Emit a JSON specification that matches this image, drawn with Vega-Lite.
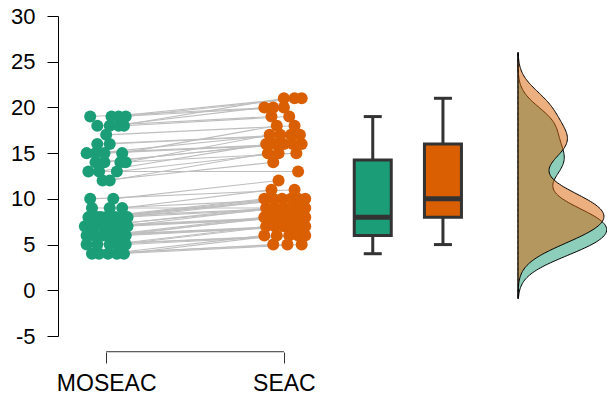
{
"$schema":"https://vega.github.io/schema/vega-lite/v6.json",
"width":549,"height":320,
"autosize":{"type":"none"},
"padding":{"left":58,"top":16,"right":0,"bottom":60},
"background":"white",
"config":{"view":{"stroke":null},"font":"Liberation Sans",
 "axis":{"grid":false,"title":null},
 "axisY":{"tickSize":11,"labelFontSize":22,"labelPadding":12,"domainColor":"#000","tickColor":"#000","labelColor":"#000","domainWidth":1,"tickWidth":1,"labelExpr":"'' + datum.value"},
 "axisX":{"tickSize":11,"labelFontSize":23,"labelPadding":9,"domain":false,"offset":16,"tickColor":"#333","labelColor":"#000"}},
"datasets":{"pts":[
{"id":1,"c":"MOSEAC","v":4,"x":0.96},{"id":2,"c":"MOSEAC","v":4,"x":1.01},{"id":3,"c":"MOSEAC","v":4,"x":1.06},{"id":4,"c":"MOSEAC","v":4,"x":1.10},{"id":5,"c":"MOSEAC","v":4,"x":0.92},
{"id":6,"c":"MOSEAC","v":5,"x":0.89},{"id":7,"c":"MOSEAC","v":5,"x":0.95},{"id":8,"c":"MOSEAC","v":5,"x":1.02},{"id":9,"c":"MOSEAC","v":5,"x":1.07},{"id":10,"c":"MOSEAC","v":5,"x":1.11},
{"id":11,"c":"MOSEAC","v":6,"x":0.89},{"id":12,"c":"MOSEAC","v":6,"x":0.93},{"id":13,"c":"MOSEAC","v":6,"x":0.98},{"id":14,"c":"MOSEAC","v":6,"x":1.03},{"id":15,"c":"MOSEAC","v":6,"x":1.07},{"id":16,"c":"MOSEAC","v":6,"x":1.11},{"id":17,"c":"MOSEAC","v":6,"x":1.00},
{"id":18,"c":"MOSEAC","v":7,"x":0.88},{"id":19,"c":"MOSEAC","v":7,"x":0.94},{"id":20,"c":"MOSEAC","v":7,"x":0.99},{"id":21,"c":"MOSEAC","v":7,"x":1.04},{"id":22,"c":"MOSEAC","v":7,"x":1.08},{"id":23,"c":"MOSEAC","v":7,"x":1.12},{"id":24,"c":"MOSEAC","v":7,"x":0.91},
{"id":25,"c":"MOSEAC","v":8,"x":0.90},{"id":26,"c":"MOSEAC","v":8,"x":0.95},{"id":27,"c":"MOSEAC","v":8,"x":1.00},{"id":28,"c":"MOSEAC","v":8,"x":1.05},{"id":29,"c":"MOSEAC","v":8,"x":1.09},{"id":30,"c":"MOSEAC","v":8,"x":1.12},{"id":31,"c":"MOSEAC","v":8,"x":0.97},
{"id":32,"c":"MOSEAC","v":9,"x":0.92},{"id":33,"c":"MOSEAC","v":9,"x":1.02},{"id":34,"c":"MOSEAC","v":9,"x":1.09},
{"id":35,"c":"MOSEAC","v":10,"x":0.91},{"id":36,"c":"MOSEAC","v":10,"x":1.04},
{"id":37,"c":"MOSEAC","v":12,"x":0.98},{"id":38,"c":"MOSEAC","v":12,"x":1.02},
{"id":39,"c":"MOSEAC","v":13,"x":0.90},{"id":40,"c":"MOSEAC","v":13,"x":0.96},{"id":41,"c":"MOSEAC","v":13,"x":1.06},
{"id":42,"c":"MOSEAC","v":14,"x":0.99},{"id":43,"c":"MOSEAC","v":14,"x":1.08},{"id":44,"c":"MOSEAC","v":14,"x":0.94},{"id":45,"c":"MOSEAC","v":14,"x":1.11},
{"id":46,"c":"MOSEAC","v":15,"x":0.89},{"id":47,"c":"MOSEAC","v":15,"x":0.94},{"id":48,"c":"MOSEAC","v":15,"x":0.99},{"id":49,"c":"MOSEAC","v":15,"x":1.09},
{"id":50,"c":"MOSEAC","v":16,"x":0.95},{"id":51,"c":"MOSEAC","v":16,"x":1.02},
{"id":52,"c":"MOSEAC","v":17,"x":1.00},
{"id":53,"c":"MOSEAC","v":18,"x":0.95},{"id":54,"c":"MOSEAC","v":18,"x":1.02},{"id":55,"c":"MOSEAC","v":18,"x":1.07},{"id":56,"c":"MOSEAC","v":18,"x":1.10},
{"id":57,"c":"MOSEAC","v":19,"x":0.91},{"id":58,"c":"MOSEAC","v":19,"x":1.03},{"id":59,"c":"MOSEAC","v":19,"x":1.07},{"id":60,"c":"MOSEAC","v":19,"x":1.11},
{"id":1,"c":"SEAC","v":5,"x":1.94},{"id":2,"c":"SEAC","v":6,"x":1.89},{"id":3,"c":"SEAC","v":5,"x":2.10},{"id":4,"c":"SEAC","v":6,"x":1.96},{"id":5,"c":"SEAC","v":5,"x":2.02},
{"id":6,"c":"SEAC","v":6,"x":2.03},{"id":7,"c":"SEAC","v":6,"x":2.08},{"id":8,"c":"SEAC","v":7,"x":1.90},{"id":9,"c":"SEAC","v":7,"x":1.95},{"id":10,"c":"SEAC","v":6,"x":2.12},
{"id":11,"c":"SEAC","v":7,"x":2.00},{"id":12,"c":"SEAC","v":7,"x":2.05},{"id":13,"c":"SEAC","v":8,"x":1.89},{"id":14,"c":"SEAC","v":7,"x":2.09},{"id":15,"c":"SEAC","v":8,"x":1.93},
{"id":16,"c":"SEAC","v":7,"x":2.12},{"id":17,"c":"SEAC","v":8,"x":1.98},{"id":18,"c":"SEAC","v":8,"x":2.02},{"id":19,"c":"SEAC","v":9,"x":1.90},{"id":20,"c":"SEAC","v":8,"x":2.06},
{"id":21,"c":"SEAC","v":8,"x":2.10},{"id":22,"c":"SEAC","v":9,"x":1.95},{"id":23,"c":"SEAC","v":8,"x":2.12},{"id":24,"c":"SEAC","v":9,"x":2.00},{"id":25,"c":"SEAC","v":9,"x":2.05},
{"id":26,"c":"SEAC","v":10,"x":1.89},{"id":27,"c":"SEAC","v":10,"x":1.94},{"id":28,"c":"SEAC","v":10,"x":1.99},{"id":29,"c":"SEAC","v":9,"x":2.09},{"id":30,"c":"SEAC","v":10,"x":2.04},
{"id":31,"c":"SEAC","v":10,"x":2.08},{"id":32,"c":"SEAC","v":9,"x":2.12},{"id":33,"c":"SEAC","v":10,"x":2.12},{"id":34,"c":"SEAC","v":11,"x":1.93},{"id":35,"c":"SEAC","v":11,"x":2.06},
{"id":36,"c":"SEAC","v":12,"x":1.97},{"id":37,"c":"SEAC","v":14,"x":1.94},{"id":38,"c":"SEAC","v":15,"x":1.91},{"id":39,"c":"SEAC","v":13,"x":2.08},{"id":40,"c":"SEAC","v":16,"x":1.90},
{"id":41,"c":"SEAC","v":15,"x":1.97},{"id":42,"c":"SEAC","v":16,"x":1.95},{"id":43,"c":"SEAC","v":15,"x":2.07},{"id":44,"c":"SEAC","v":16,"x":2.00},{"id":45,"c":"SEAC","v":17,"x":1.92},
{"id":46,"c":"SEAC","v":16,"x":2.05},{"id":47,"c":"SEAC","v":17,"x":1.98},{"id":48,"c":"SEAC","v":16,"x":2.10},{"id":49,"c":"SEAC","v":18,"x":1.96},{"id":50,"c":"SEAC","v":17,"x":2.04},
{"id":51,"c":"SEAC","v":17,"x":2.09},{"id":52,"c":"SEAC","v":18,"x":2.06},{"id":53,"c":"SEAC","v":19,"x":1.93},{"id":54,"c":"SEAC","v":20,"x":1.89},{"id":55,"c":"SEAC","v":21,"x":2.00},
{"id":56,"c":"SEAC","v":19,"x":2.03},{"id":57,"c":"SEAC","v":20,"x":1.94},{"id":58,"c":"SEAC","v":21,"x":2.06},{"id":59,"c":"SEAC","v":20,"x":2.00},{"id":60,"c":"SEAC","v":21,"x":2.10}
]},
"data":{"name":"pts"},
"layer":[
 {"layer":[
  {"mark":{"type":"line","color":"#bebebe","strokeWidth":1.1},
   "encoding":{
    "x":{"field":"x","type":"quantitative","scale":{"domain":[0.757,3.79],"nice":false,"zero":false},
         "axis":{"values":[1,2],"labelExpr":"datum.value == 1 ? 'MOSEAC' : 'SEAC'","title":null}},
    "y":{"field":"v","type":"quantitative","scale":{"domain":[-5,30],"nice":false,"zero":false},
         "axis":{"values":[-5,0,5,10,15,20,25,30],"title":null}},
    "detail":{"field":"id","type":"nominal"}}},
  {"mark":{"type":"circle","size":145,"opacity":1},
   "encoding":{
    "x":{"field":"x","type":"quantitative"},
    "y":{"field":"v","type":"quantitative"},
    "color":{"field":"c","type":"nominal","scale":{"domain":["MOSEAC","SEAC"],"range":["#1b9e77","#d95f02"]},"legend":null}}},
  {"data":{"values":[{}]},"mark":{"type":"rule","color":"#333","strokeWidth":1},
   "encoding":{"x":{"datum":1,"type":"quantitative"},"x2":{"datum":2},"y":{"datum":-6.72,"type":"quantitative"}}},
  {"transform":[{"filter":"datum.c == 'MOSEAC'"},
    {"aggregate":[{"op":"min","field":"v","as":"lo"},{"op":"q1","field":"v","as":"q1"},{"op":"median","field":"v","as":"med"},{"op":"q3","field":"v","as":"q3"},{"op":"max","field":"v","as":"hi"}]}],
   "layer":[
    {"mark":{"type":"rule","color":"#333","strokeWidth":3},"encoding":{"x":{"datum":2.5,"type":"quantitative"},"y":{"field":"lo","type":"quantitative"},"y2":{"field":"hi"}}},
    {"mark":{"type":"tick","orient":"horizontal","size":18,"thickness":3,"color":"#333","opacity":1},"encoding":{"x":{"datum":2.5,"type":"quantitative"},"y":{"field":"lo","type":"quantitative"}}},
    {"mark":{"type":"tick","orient":"horizontal","size":18,"thickness":3,"color":"#333","opacity":1},"encoding":{"x":{"datum":2.5,"type":"quantitative"},"y":{"field":"hi","type":"quantitative"}}},
    {"mark":{"type":"bar","size":37,"fill":"#1b9e77","stroke":"#333","strokeWidth":3},"encoding":{"x":{"datum":2.5,"type":"quantitative"},"y":{"field":"q1","type":"quantitative"},"y2":{"field":"q3"}}},
    {"mark":{"type":"tick","orient":"horizontal","size":37,"thickness":5,"color":"#333","opacity":1},"encoding":{"x":{"datum":2.5,"type":"quantitative"},"y":{"field":"med","type":"quantitative"}}}
   ]},
  {"transform":[{"filter":"datum.c == 'SEAC'"},
    {"aggregate":[{"op":"min","field":"v","as":"lo"},{"op":"q1","field":"v","as":"q1"},{"op":"median","field":"v","as":"med"},{"op":"q3","field":"v","as":"q3"},{"op":"max","field":"v","as":"hi"}]}],
   "layer":[
    {"mark":{"type":"rule","color":"#333","strokeWidth":3},"encoding":{"x":{"datum":2.895,"type":"quantitative"},"y":{"field":"lo","type":"quantitative"},"y2":{"field":"hi"}}},
    {"mark":{"type":"tick","orient":"horizontal","size":18,"thickness":3,"color":"#333","opacity":1},"encoding":{"x":{"datum":2.895,"type":"quantitative"},"y":{"field":"lo","type":"quantitative"}}},
    {"mark":{"type":"tick","orient":"horizontal","size":18,"thickness":3,"color":"#333","opacity":1},"encoding":{"x":{"datum":2.895,"type":"quantitative"},"y":{"field":"hi","type":"quantitative"}}},
    {"mark":{"type":"bar","size":37,"fill":"#d95f02","stroke":"#333","strokeWidth":3},"encoding":{"x":{"datum":2.895,"type":"quantitative"},"y":{"field":"q1","type":"quantitative"},"y2":{"field":"q3"}}},
    {"mark":{"type":"tick","orient":"horizontal","size":37,"thickness":5,"color":"#333","opacity":1},"encoding":{"x":{"datum":2.895,"type":"quantitative"},"y":{"field":"med","type":"quantitative"}}}
   ]}
 ]},
 {"transform":[{"density":"v","groupby":["c"],"bandwidth":1.75,"extent":[-0.9,26],"steps":200}],
  "mark":{"type":"area","orient":"horizontal","stroke":"#000","strokeWidth":1,"fillOpacity":0.5},
  "encoding":{
   "y":{"field":"value","type":"quantitative","axis":{"values":[-5,0,5,10,15,20,25,30],"title":null}},
   "x":{"field":"density","type":"quantitative","stack":null,"scale":{"domain":[-0.4915,0.0951],"nice":false},"axis":null},
   "color":{"field":"c","type":"nominal","legend":null}}}
],
"resolve":{"scale":{"x":"independent"}}
}
